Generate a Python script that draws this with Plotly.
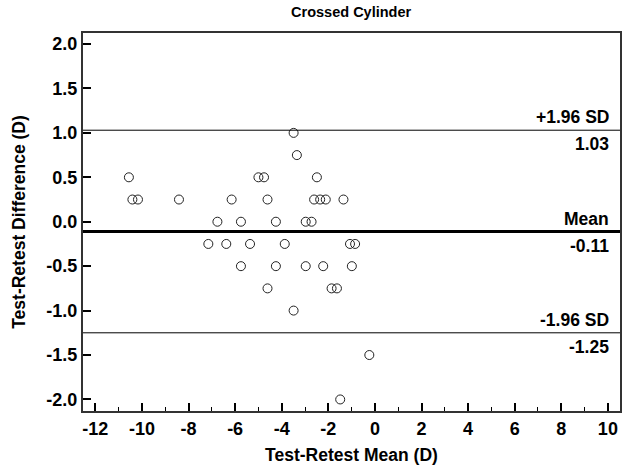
import plotly.graph_objects as go

# Data (Bland-Altman, Crossed Cylinder)
test_retest_mean = [
    -3.49,
    -3.35,
    -10.56, -5.0, -4.76, -2.49,
    -10.41, -10.17, -8.41, -6.15, -4.61, -2.61, -2.35, -2.11, -1.35,
    -6.76, -5.75, -4.25, -2.97, -2.72,
    -7.15, -6.38, -5.36, -3.87, -1.07, -0.85,
    -5.75, -4.25, -2.97, -2.22, -0.99,
    -4.61, -1.86, -1.63,
    -3.49,
    -0.24,
    -1.49,
]
test_retest_diff = [
    1.0,
    0.75,
    0.5, 0.5, 0.5, 0.5,
    0.25, 0.25, 0.25, 0.25, 0.25, 0.25, 0.25, 0.25, 0.25,
    0.0, 0.0, 0.0, 0.0, 0.0,
    -0.25, -0.25, -0.25, -0.25, -0.25, -0.25,
    -0.5, -0.5, -0.5, -0.5, -0.5,
    -0.75, -0.75, -0.75,
    -1.0,
    -1.5,
    -2.0,
]
mean_diff = -0.11
upper_loa = 1.03
lower_loa = -1.25
x_ticks = list(range(-12, 11, 2))
y_ticks = [2.0, 1.5, 1.0, 0.5, 0.0, -0.5, -1.0, -1.5, -2.0]

FONT = "Liberation Sans, Arial, sans-serif"

fig = go.Figure()
fig.add_trace(go.Scatter(
    x=test_retest_mean, y=test_retest_diff, mode="markers",
    marker=dict(symbol="circle-open", size=9, color="#222222", line=dict(width=1, color="#222222")),
    showlegend=False, hoverinfo="skip",
))

# Reference lines
for yv, w in [(upper_loa, 1), (mean_diff, 3), (lower_loa, 1)]:
    fig.add_shape(type="line", xref="paper", x0=0, x1=1, yref="y", y0=yv, y1=yv,
                  line=dict(color="black", width=w), layer="above")

labels = [
    (upper_loa, "+1.96 SD", f"{upper_loa:.2f}"),
    (mean_diff, "Mean", f"{mean_diff:.2f}"),
    (lower_loa, "-1.96 SD", f"{lower_loa:.2f}"),
]
ann_font = dict(family=FONT, size=17.5, color="black", weight="bold")
for yv, top, bottom in labels:
    fig.add_annotation(x=0.9795, xref="paper", y=yv, yref="y", text=top, showarrow=False,
                       xanchor="right", yanchor="bottom", yshift=1, xshift=2, font=ann_font)
    fig.add_annotation(x=0.9795, xref="paper", y=yv, yref="y", text=bottom, showarrow=False,
                       xanchor="right", yanchor="top", yshift=-2, xshift=2, font=ann_font)

axis_font = dict(family=FONT, size=18, color="black", weight="bold")
title_font = dict(family=FONT, size=17.5, color="black", weight="bold")
fig.update_layout(
    width=627, height=465,
    margin=dict(l=83, r=7, t=33, b=54, autoexpand=False),
    paper_bgcolor="white", plot_bgcolor="white",
    title=dict(text="Crossed Cylinder", x=0.56, xanchor="center", y=0.975, yanchor="middle",
               font=dict(family=FONT, size=14.5, color="black", weight="bold")),
    xaxis=dict(
        range=[-12.53, 10.52], tickmode="array", tickvals=x_ticks,
        ticktext=[str(v) for v in x_ticks],
        ticks="inside", ticklen=8, tickwidth=1.5, tickcolor="black",
        minor=dict(dtick=1, ticks="inside", ticklen=4, tickwidth=1, tickcolor="black", showgrid=False),
        showgrid=False, zeroline=False, showline=True, linecolor="#333333", linewidth=2, mirror=True,
        tickfont=axis_font, automargin=False,
        title=dict(text="Test-Retest Mean (D)", font=title_font, standoff=11),
    ),
    yaxis=dict(
        range=[-2.13, 2.124], tickmode="array", tickvals=y_ticks,
        ticktext=[f"{v:.1f}" for v in y_ticks],
        ticks="inside", ticklen=8, tickwidth=1.5, tickcolor="black",
        showgrid=False, zeroline=False, showline=True, linecolor="#333333", linewidth=2, mirror=True,
        tickfont=axis_font, automargin=False,
        title=dict(text="Test-Retest Difference (D)", font=title_font, standoff=16),
    ),
)

fig.write_html("out.html")
